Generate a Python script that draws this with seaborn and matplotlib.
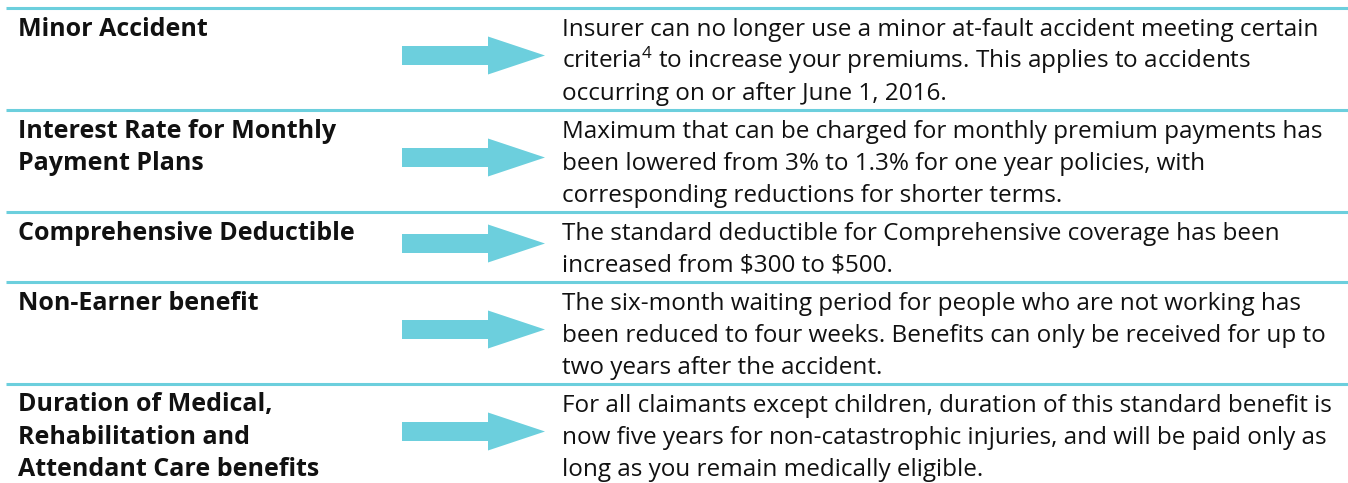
import matplotlib
matplotlib.use("Agg")
import matplotlib.pyplot as plt
import seaborn as sns
from matplotlib.patches import FancyArrow

categories = [
    "Minor Accident",
    "Interest Rate for Monthly\nPayment Plans",
    "Comprehensive Deductible",
    "Non-Earner benefit",
    "Duration of Medical,\nRehabilitation and\nAttendant Care benefits",
]
descriptions = [
    "Insurer can no longer use a minor at-fault accident meeting certain\n"
    "criteria$^{4}$ to increase your premiums. This applies to accidents\n"
    "occurring on or after June 1, 2016.",
    "Maximum that can be charged for monthly premium payments has\n"
    "been lowered from 3% to 1.3% for one year policies, with\n"
    "corresponding reductions for shorter terms.",
    "The standard deductible for Comprehensive coverage has been\n"
    "increased from \\$300 to \\$500.",
    "The six-month waiting period for people who are not working has\n"
    "been reduced to four weeks. Benefits can only be received for up to\n"
    "two years after the accident.",
    "For all claimants except children, duration of this standard benefit is\n"
    "now five years for non-catastrophic injuries, and will be paid only as\n"
    "long as you remain medically eligible.",
]

sns.set_theme(style="white")
FONT = "Open Sans"
plt.rcParams["font.family"] = [FONT, "DejaVu Sans"]
plt.rcParams["mathtext.fontset"] = "custom"
plt.rcParams["mathtext.rm"] = FONT
plt.rcParams["mathtext.default"] = "regular"

W, H = 1348, 483
fig = plt.figure(figsize=(W / 100, H / 100), dpi=100)
ax = fig.add_axes([0, 0, 1, 1])
ax.set_xlim(0, W)
ax.set_ylim(H, 0)
ax.axis("off")

ACCENT = "#6ccfdd"
TXT = "#111111"
LINE_H = 32
FIRST = 28
FS = 17.5
FS_B = 18

y = 7.5
for cat, desc in zip(categories, descriptions):
    dlines = desc.split("\n")
    clines = cat.split("\n")
    n = max(len(dlines), len(clines))
    row_h = FIRST + LINE_H * (n - 1) + 10
    ax.plot([6, W], [y, y], color=ACCENT, lw=2.2, solid_capstyle="butt")
    for i, t in enumerate(clines):
        ax.text(18, y + FIRST + i * LINE_H, t, fontsize=FS_B, fontweight="bold",
                color=TXT, va="baseline", ha="left")
    for i, t in enumerate(dlines):
        ax.text(562, y + FIRST + i * LINE_H, t, fontsize=FS, color=TXT,
                va="baseline", ha="left")
    yc = y + row_h / 2 - 3
    ax.add_patch(FancyArrow(402, yc, 143, 0, width=19, head_width=38,
                            head_length=57, length_includes_head=True,
                            color=ACCENT, lw=0))
    y += row_h

fig.savefig("out.png", dpi=100)
